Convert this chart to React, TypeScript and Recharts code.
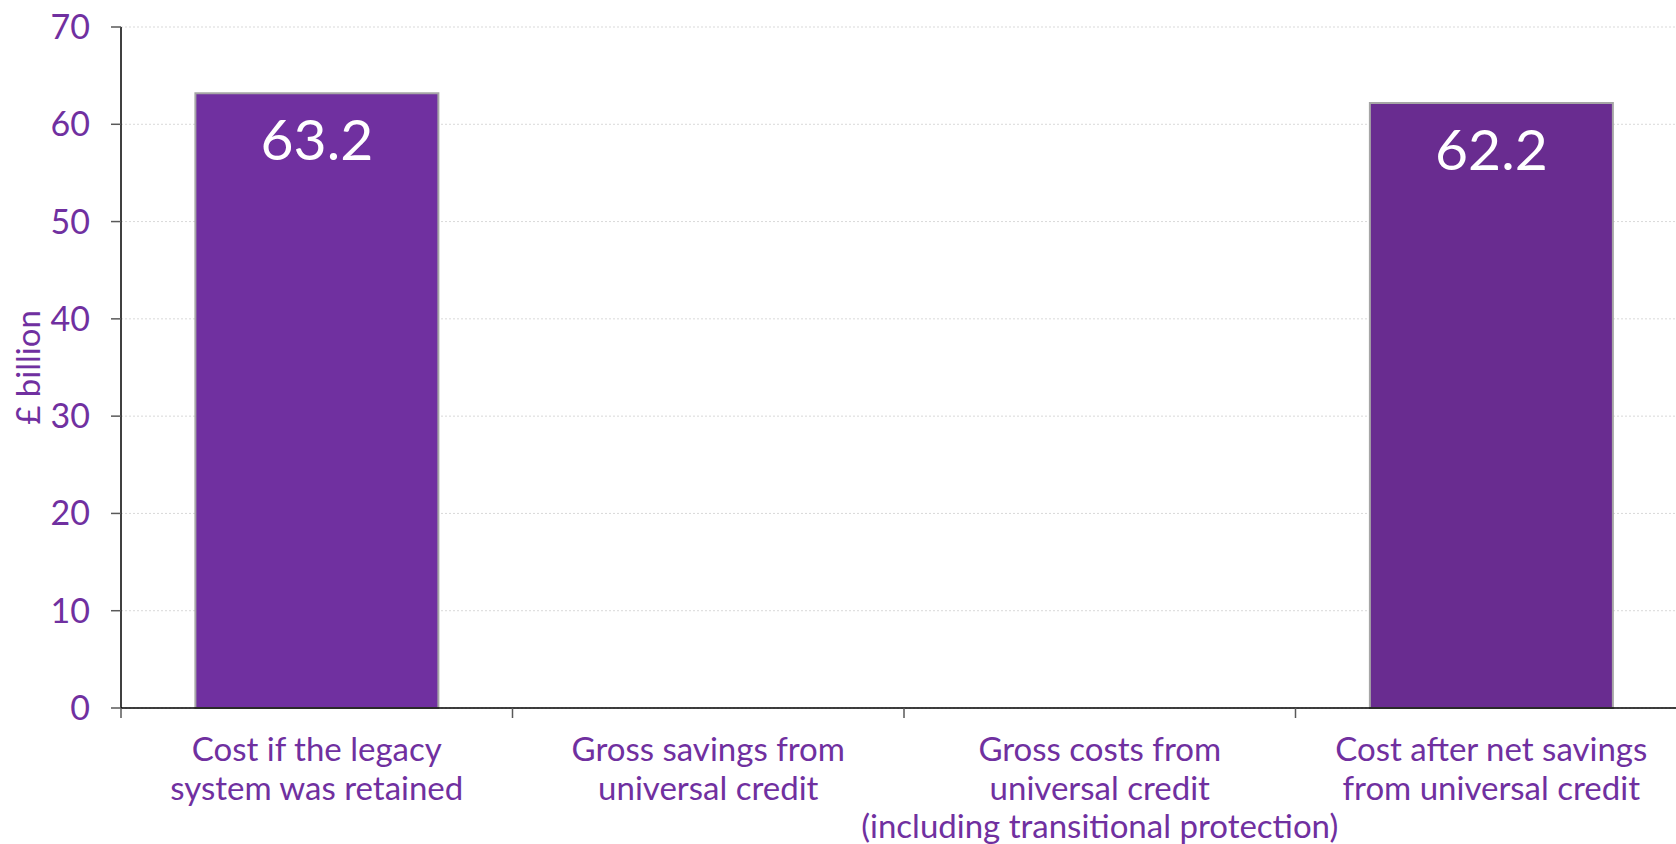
import { Bar, BarChart, CartesianGrid, Cell, LabelList, XAxis, YAxis } from "recharts";

const categories = [
  "Cost if the legacy\nsystem was retained",
  "Gross savings from\nuniversal credit",
  "Gross costs from\nuniversal credit\n(including transitional protection)",
  "Cost after net savings\nfrom universal credit",
];
const values: (number | null)[] = [63.2, null, null, 62.2];
const barColors = ["#7030A0", "#692C90", "#7030A0", "#692C90"];
const yTicks = [0, 10, 20, 30, 40, 50, 60, 70];

const PURPLE = "#7030A0";
const FONT = "Lato, 'Open Sans', sans-serif";

const CHART_W = 1700;
const CHART_H = 844;
const MARGIN = { top: 27, right: 13, left: 0, bottom: 0 };
const Y_W = 121;
const BAND = (CHART_W - MARGIN.left - MARGIN.right - Y_W) / categories.length;

const data = categories.map((name, i) => ({ name, value: values[i] }));

function CategoryTick(props: any) {
  const { x, y, payload } = props;
  const lines = String(payload.value).split("\n");
  const left = x - BAND / 2;
  return (
    <g>
      <line x1={left} y1={y - 8} x2={left} y2={y + 2} stroke="#595959" strokeWidth={1.5} />
      <text textAnchor="middle" fill={PURPLE} fontSize={33} fontFamily={FONT}>
        {lines.map((l, i) => (
          <tspan key={i} x={x} y={y + 32 + i * 38.5} dominantBaseline="central">
            {l}
          </tspan>
        ))}
      </text>
    </g>
  );
}

function ValueLabel(props: any) {
  const { x, y, width, value } = props;
  if (value == null) return null;
  return (
    <text
      x={x + width / 2}
      y={y + 45}
      textAnchor="middle"
      dominantBaseline="central"
      fill="#fff"
      fontSize={57}
      fontFamily={FONT}
    >
      {value}
    </text>
  );
}

export default function App() {
  return (
    <div
      style={{
        position: "fixed",
        left: 0,
        top: 0,
        width: 1676,
        height: 844,
        overflow: "hidden",
        background: "#fff",
      }}
    >
      <BarChart width={CHART_W} height={CHART_H} data={data} margin={MARGIN} barCategoryGap="19%">
        <CartesianGrid vertical={false} stroke="#d9d9d9" strokeDasharray="2 2" />
        <XAxis
          dataKey="name"
          height={136}
          interval={0}
          axisLine={{ stroke: "#000", strokeWidth: 1.5 }}
          tickLine={false}
          tick={<CategoryTick />}
        />
        <YAxis
          width={Y_W}
          domain={[0, 70]}
          ticks={yTicks}
          interval={0}
          axisLine={{ stroke: "#000", strokeWidth: 1.5 }}
          tickLine={{ stroke: "#595959", strokeWidth: 1.5 }}
          tickSize={10}
          tickMargin={21}
          tick={{ fill: PURPLE, fontSize: 34, fontFamily: FONT }}
          label={{
            content: ({ viewBox }: any) => (
              <text
                transform={`translate(27, ${viewBox.y + viewBox.height / 2}) rotate(-90)`}
                textAnchor="middle"
                dominantBaseline="central"
                fill={PURPLE}
                fontSize={33}
                fontFamily={FONT}
              >
                £ billion
              </text>
            ),
          }}
        />
        <Bar dataKey="value" stroke="#a6a6a6" strokeWidth={2} isAnimationActive={false}>
          {data.map((_, i) => (
            <Cell key={i} fill={barColors[i]} />
          ))}
          <LabelList dataKey="value" content={<ValueLabel />} />
        </Bar>
      </BarChart>
    </div>
  );
}
